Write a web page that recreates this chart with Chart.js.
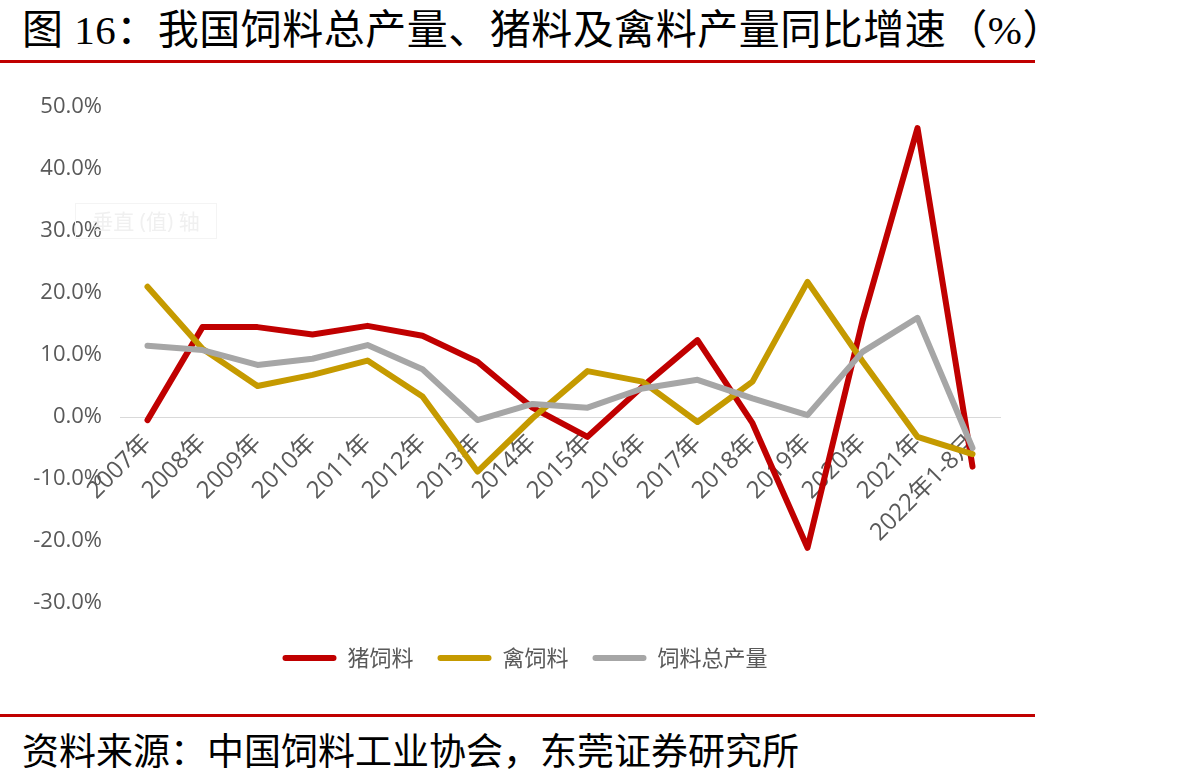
<!DOCTYPE html>
<html>
<head>
<meta charset="utf-8">
<script src="https://cdn.jsdelivr.net/npm/chart.js@4.4.0/dist/chart.umd.min.js"></script>
<style>
  body { margin: 0; background: #fff; width: 1182px; height: 784px; position: relative; overflow: hidden; font-family: "Noto Sans CJK SC", sans-serif; }
  #title { position: absolute; left: 22px; top: 5px; font-size: 41px; letter-spacing: 0.5px; line-height: 50px; color: #000; white-space: nowrap; font-family: "Liberation Serif", "Noto Sans CJK SC"; }
  .rule { position: absolute; left: 0; width: 1035px; height: 3px; background: #C00000; }
  #source { position: absolute; left: 22px; top: 726px; font-size: 37px; line-height: 46px; color: #000; white-space: nowrap; }
  #chartBox { position: absolute; left: 0; top: 0; width: 1050px; height: 705px; }
  #axisTip { position: absolute; left: 75px; top: 203px; width: 140px; height: 34px; border: 1px solid #f4f4f4; color: #f0f0f0; font-size: 21px; line-height: 34px; text-align: center; font-family: "Open Sans", "Noto Sans CJK SC"; }
</style>
</head>
<body>
<div id="title">图 16：我国饲料总产量、猪料及禽料产量同比增速（%）</div>
<div class="rule" style="top:60px"></div>
<div id="chartBox"><canvas id="feedChart" width="1050" height="705"></canvas></div>
<div id="axisTip">垂直 (值) 轴</div>
<div class="rule" style="top:714px"></div>
<div id="source">资料来源：中国饲料工业协会，东莞证券研究所</div>

<script>
// categories
var years = ['2007年', '2008年', '2009年', '2010年', '2011年', '2012年', '2013年', '2014年',
  '2015年', '2016年', '2017年', '2018年', '2019年', '2020年', '2021年', '2022年1-8月'];

// yoy growth, %
var pigFeed = [-0.5, 14.5, 14.5, 13.3, 14.7, 13.1, 8.9, 1.5, -3.2, 4.9, 12.4, -1.0, -21.1, 15.5, 46.6, -8.0];
var poultryFeed = [21.0, 11.0, 5.0, 6.8, 9.1, 3.3, -8.8, -0.2, 7.4, 5.7, -0.8, 5.7, 21.8, 9.0, -3.2, -6.0];
var totalFeed = [11.5, 10.8, 8.4, 9.4, 11.6, 7.7, -0.5, 2.1, 1.5, 4.6, 6.0, 3.0, 0.3, 10.5, 16.0, -5.0];

var axisFont = "'Open Sans', 'Noto Sans CJK SC'";
var labelColor = '#595959';

function makeLine(label, data, color, order) {
  return {
    label: label,
    data: data,
    borderColor: color,
    backgroundColor: color,
    borderWidth: 6,
    pointRadius: 0,
    tension: 0,
    borderJoinStyle: 'round',
    borderCapStyle: 'round',
    order: order
  };
}

// nudge the legend right a bit so it sits where the excel one was
var legendShift = {
  id: 'legendShift',
  afterLayout: function(c) {
    c.legend.left += 25;
    c.legend.right += 25;
  }
};

var chart = new Chart(document.getElementById('feedChart'), {
  type: 'line',
  data: {
    labels: years,
    datasets: [
      makeLine('猪饲料', pigFeed, '#C00000', 3),
      makeLine('禽饲料', poultryFeed, '#C59A00', 2),
      makeLine('饲料总产量', totalFeed, '#A6A6A6', 1)
    ]
  },
  plugins: [legendShift],
  options: {
    responsive: false,
    animation: false,
    layout: { padding: { top: 107, right: 50, bottom: 26, left: 0 } },
    scales: {
      x: {
        type: 'category',
        offset: true,
        position: { y: 0 },
        grid: { display: false, drawTicks: false },
        border: { display: true, color: '#D9D9D9', width: 1 },
        ticks: {
          autoSkip: false,
          minRotation: 45,
          maxRotation: 45,
          padding: 12,
          color: labelColor,
          font: { family: axisFont, size: 24 }
        }
      },
      y: {
        min: -30,
        max: 50,
        grid: { display: false, drawTicks: false },
        border: { display: false },
        afterFit: function(scale) { scale.width = 120; },
        ticks: {
          stepSize: 10,
          padding: 18,
          color: labelColor,
          font: { family: axisFont, size: 22 },
          callback: function(v) { return v.toFixed(1) + '%'; }
        }
      }
    },
    plugins: {
      tooltip: { enabled: false },
      legend: {
        position: 'bottom',
        title: { display: true, text: ' ', font: { size: 10 }, padding: { top: 4, bottom: 4 } },
        labels: {
          boxWidth: 54,
          boxHeight: 6,
          padding: 24,
          color: labelColor,
          useBorderRadius: true,
          borderRadius: 3,
          font: { family: "'Noto Sans CJK SC'", size: 22 },
          sort: function(a, b) { return a.datasetIndex - b.datasetIndex; },
          generateLabels: function(c) {
            var items = Chart.defaults.plugins.legend.labels.generateLabels(c);
            items.forEach(function(it) { it.lineWidth = 0; it.fillStyle = it.strokeStyle; });
            return items;
          }
        }
      }
    }
  }
});
</script>
</body>
</html>
